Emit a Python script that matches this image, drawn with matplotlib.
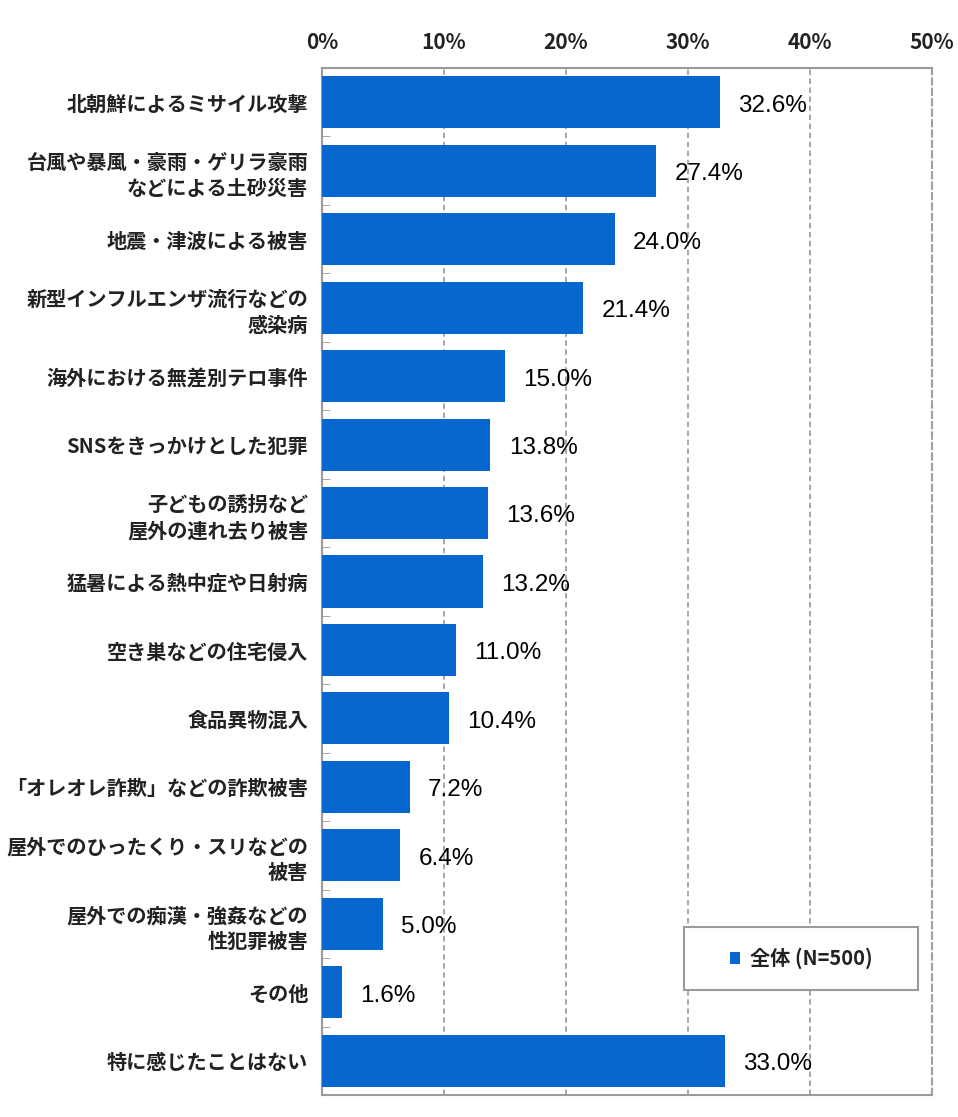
import numpy as np
import matplotlib
matplotlib.use("Agg")
import matplotlib.pyplot as plt
from matplotlib.patches import Rectangle
from matplotlib.ticker import FixedLocator

plt.rcParams['font.family'] = ['Noto Sans CJK JP', 'DejaVu Sans']

# data (top to bottom as in the chart)
categories = [
    "北朝鮮によるミサイル攻撃",
    "台風や暴風・豪雨・ゲリラ豪雨\nなどによる土砂災害",
    "地震・津波による被害",
    "新型インフルエンザ流行などの\n感染病",
    "海外における無差別テロ事件",
    "SNSをきっかけとした犯罪",
    "子どもの誘拐など\n屋外の連れ去り被害",
    "猛暑による熱中症や日射病",
    "空き巣などの住宅侵入",
    "食品異物混入",
    "「オレオレ詐欺」などの詐欺被害",
    "屋外でのひったくり・スリなどの\n被害",
    "屋外での痴漢・強姦などの\n性犯罪被害",
    "その他",
    "特に感じたことはない",
]
values = [32.6, 27.4, 24.0, 21.4, 15.0, 13.8, 13.6, 13.2, 11.0, 10.4, 7.2, 6.4, 5.0, 1.6, 33.0]
xticks = [0, 10, 20, 30, 40, 50]
series_name = "全体 (N=500)"

bar_color = "#0867cf"
text_color = "#222222"
frame_color = "#9a9a9a"

fig = plt.figure(figsize=(9.58, 11.17), dpi=100)
ax = fig.add_axes([0.3361, 0.0197, 0.6368, 0.9194])

n = len(categories)
y = np.arange(n)
ax.barh(y, values, height=0.76, color=bar_color, zorder=3, label=series_name)

ax.set_xlim(0, 50)
ax.set_ylim(n - 0.5, -0.5)

# axis on top
ax.xaxis.tick_top()
ax.set_xticks(xticks)
ax.set_xticklabels([f"{t}%" for t in xticks], fontsize=15, fontweight="bold", color=text_color)
ax.tick_params(axis="x", length=0, pad=11)

ax.set_yticks(y)
ax.set_yticklabels(categories, fontsize=14.5, fontweight="bold", color=text_color,
                   ha="right", multialignment="right", linespacing=1.3)
ax.tick_params(axis="y", which="major", length=0, pad=10)
ax.yaxis.set_minor_locator(FixedLocator(np.arange(-0.5, n, 1.0)))
ax.tick_params(axis="y", which="minor", direction="in", length=6, color=frame_color)

# dashed grid
for t in xticks[1:-1]:
    ax.axvline(t, color="#a0a0a0", linestyle=(0, (3, 2)), linewidth=1.3, zorder=1)

for side in ["top", "left", "bottom"]:
    ax.spines[side].set_color(frame_color)
    ax.spines[side].set_linewidth(1.5)
ax.spines["right"].set_color("#a0a0a0")
ax.spines["right"].set_linestyle((0, (3, 2)))
ax.spines["right"].set_linewidth(1.5)

for yi, v in zip(y, values):
    ax.text(v + 1.5, yi + 0.05, f"{v:.1f}%", va="center", ha="left", fontsize=17.5,
            family="Liberation Sans", color="#000000", zorder=4)

# legend: a fixed box with the entry centered inside
ax.add_patch(Rectangle((0.5934, 0.1022), 0.3836, 0.0614, transform=ax.transAxes,
                       facecolor="white", edgecolor=frame_color, linewidth=1.5, zorder=5))
leg = ax.legend(loc="center", bbox_to_anchor=(0.5934 + 0.3836 / 2, 0.1022 + 0.0614 / 2),
                frameon=False, fontsize=14.5, handlelength=0.5, handleheight=0.5,
                handletextpad=0.5, borderpad=0)
leg.set_zorder(6)
for txt in leg.get_texts():
    txt.set_color(text_color)
    txt.set_fontweight("bold")

fig.savefig("out.png", dpi=100)
